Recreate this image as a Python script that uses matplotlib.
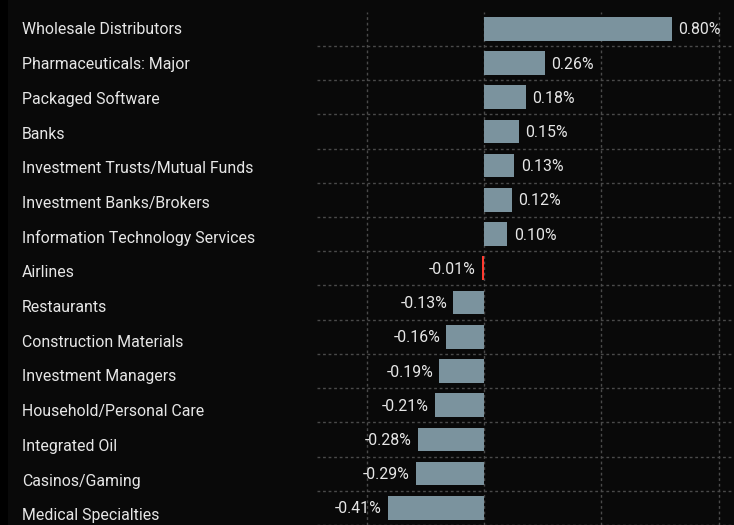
import matplotlib
matplotlib.use("Agg")
import matplotlib.pyplot as plt
from matplotlib.patches import Rectangle
import numpy as np

categories = [
    "Wholesale Distributors",
    "Pharmaceuticals: Major",
    "Packaged Software",
    "Banks",
    "Investment Trusts/Mutual Funds",
    "Investment Banks/Brokers",
    "Information Technology Services",
    "Airlines",
    "Restaurants",
    "Construction Materials",
    "Investment Managers",
    "Household/Personal Care",
    "Integrated Oil",
    "Casinos/Gaming",
    "Medical Specialties",
]
values = [0.80, 0.26, 0.18, 0.15, 0.13, 0.12, 0.10, -0.01, -0.13, -0.16,
          -0.19, -0.21, -0.28, -0.29, -0.41]
highlight = "Airlines"

W, H = 734, 525
fig = plt.figure(figsize=(W / 100, H / 100), dpi=100)
fig.patch.set_facecolor("#090909")
fig.patches.append(Rectangle((0, 0), 8 / W, 1, transform=fig.transFigure,
                             facecolor="#000000", edgecolor="none", zorder=0))

ax_left, ax_right = 317, 734
ax_top = 11.6
ax = fig.add_axes([ax_left / W, 0, (ax_right - ax_left) / W, (H - ax_top) / H])
ax.set_facecolor("none")

ypos = np.arange(len(categories))
colors = ["#ff3b30" if c == highlight else "#7b939e" for c in categories]
ax.barh(ypos, values, height=0.69, color=colors, zorder=3)

ax.set_xlim(-0.712, 1.066)
pitch = 34.7
bottom = -0.5 + (H - ax_top) / pitch
ax.set_ylim(bottom, -0.5)

ax.set_xticks([-0.5, 0, 0.5, 1.0])
ax.set_yticks(ypos + 0.5)
ax.grid(True, color="#4a4a4a", linestyle=(0, (2, 2)), linewidth=1.0, zorder=0)
ax.tick_params(left=False, bottom=False, labelleft=False, labelbottom=False)
for s in ax.spines.values():
    s.set_visible(False)

fontfam = ["Roboto", "DejaVu Sans"]
fs = 11.4
for i, (c, v) in enumerate(zip(categories, values)):
    fig.text(22 / W, 1 - (ax_top + pitch * (i + 0.5) + 1) / H, c, color="#e6e6e6",
             fontsize=fs, family=fontfam, va="center", ha="left")
    if v >= 0:
        ax.annotate(f"{v:.2f}%", (v, i), xytext=(4.5, -0.8), textcoords="offset points",
                    color="#e6e6e6", fontsize=fs, family=fontfam,
                    va="center", ha="left")
    else:
        ax.annotate(f"{v:.2f}%", (v, i), xytext=(-4.5, -0.8), textcoords="offset points",
                    color="#e6e6e6", fontsize=fs, family=fontfam,
                    va="center", ha="right")

fig.savefig("out.png", dpi=100, facecolor=fig.get_facecolor())
